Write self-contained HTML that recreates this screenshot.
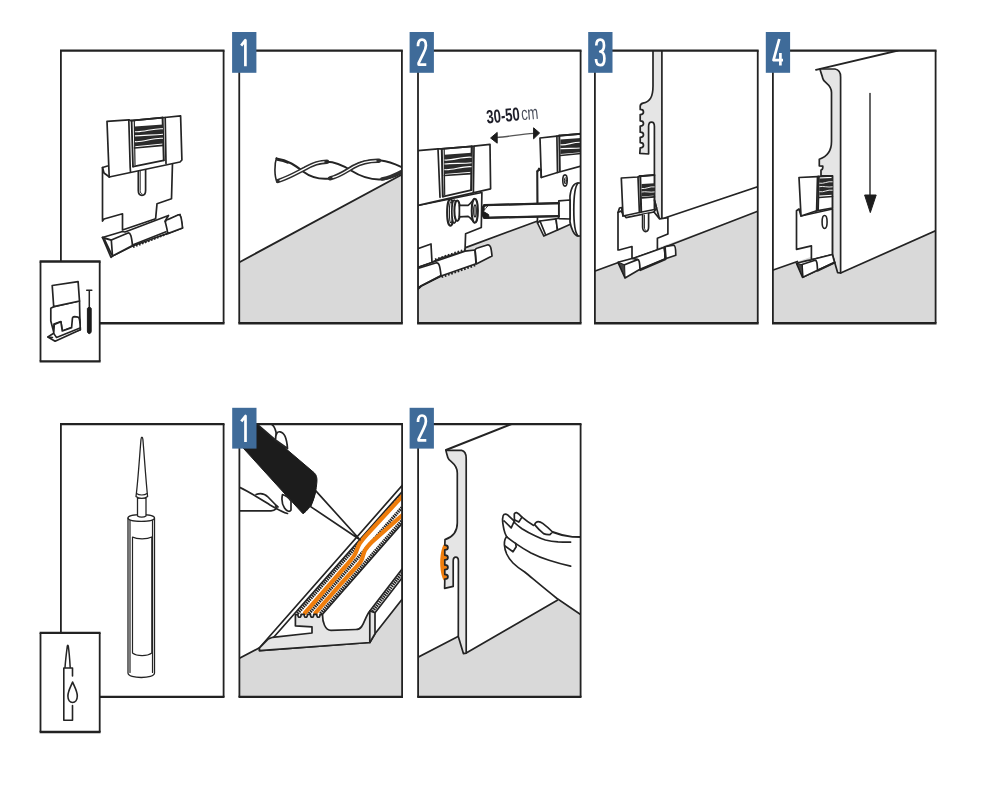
<!DOCTYPE html>
<html><head><meta charset="utf-8">
<style>
html,body{margin:0;padding:0;background:#fff;}
body{width:1000px;height:800px;overflow:hidden;font-family:"Liberation Sans",sans-serif;}
svg{display:block;position:absolute;left:0;top:0;filter:blur(0.45px);}
.l{fill:none;stroke:#242424;stroke-width:1.7;stroke-linejoin:round;stroke-linecap:round;}
.w{fill:#fff;stroke:#242424;stroke-width:1.7;stroke-linejoin:round;stroke-linecap:round;}
.g{fill:#e5e5e5;stroke:#242424;stroke-width:1.7;stroke-linejoin:round;stroke-linecap:round;}
.k{fill:#1c1c1c;stroke:#1c1c1c;stroke-width:1;stroke-linejoin:round;}
.fl{fill:#d9d9d9;stroke:none;}
.fr{fill:none;stroke:#1c1c1c;stroke-width:1.7;}
.bd{fill:#3f6b99;}
.fh{fill:none;stroke:#222;stroke-width:2.3;}
.fv{fill:none;stroke:#222;stroke-width:1.8;}
.bt{fill:#fff;font-family:"Liberation Sans",sans-serif;font-size:33px;}
.o{fill:none;stroke:#ef7d0c;stroke-linecap:round;stroke-linejoin:round;}
</style></head><body>
<svg width="1000" height="800" viewBox="0 0 1000 800">
<defs>
<clipPath id="c10"><rect x="60.90" y="50.55" width="162.70" height="272.70"/></clipPath>
<clipPath id="c11"><rect x="239.25" y="50.55" width="162.65" height="272.70"/></clipPath>
<clipPath id="c12"><rect x="418.00" y="50.55" width="162.60" height="272.70"/></clipPath>
<clipPath id="c13"><rect x="594.90" y="50.55" width="162.85" height="272.70"/></clipPath>
<clipPath id="c14"><rect x="772.90" y="50.55" width="162.70" height="272.70"/></clipPath>
<clipPath id="c20"><rect x="60.90" y="424.10" width="162.70" height="272.80"/></clipPath>
<clipPath id="c21"><rect x="239.40" y="424.10" width="162.70" height="272.80"/></clipPath>
<clipPath id="c22"><rect x="418.10" y="424.10" width="162.50" height="272.80"/></clipPath>
</defs>
<rect x="0" y="0" width="1000" height="800" fill="#fff"/>

<!--P10--><g clip-path="url(#c10)" id="p10">
<!-- lower plate -->
<path class="w" d="M102.5,167.5 L107.5,166 L172.5,162.5 L171.5,198.8 L157,203.8 L155.6,218.8 L122.5,230 L122.5,213.8 L104,219 L102.5,221 Z"/>
<path class="l" d="M102.5,167.5 L104,173 L109.4,177"/>
<!-- slot -->
<path class="w" d="M138.3,169.5 L138.3,190.5 C138.3,193.5 140,195.3 142,195.3 C144,195.3 145.6,193.5 145.6,190.5 L145.6,168"/>
<path class="l" d="M140.2,170 L140.2,190.5 C140.2,192.5 141,193.7 142,194" style="stroke-width:1"/>
<!-- top block -->
<path class="w" d="M107,121.3 L128.8,119.8 L131,120.6 L162.5,117.6 L164.6,117.5 L180.6,115.9 L181.9,160 L180,162 L109.2,177 Z"/>
<path class="l" d="M128.8,119.8 L130.2,167.5 L130.5,171.8"/>
<path class="l" d="M131.6,120.6 L133,166.5" style="stroke-width:1.8"/>
<path class="l" d="M134.3,121 L135,165" style="stroke-width:1.2"/>
<path class="l" d="M162.6,117.8 L163.8,160.3" style="stroke-width:2"/>
<path class="l" d="M165.2,117.6 L166,163.5"/>
<path class="l" d="M133,166.7 L163.8,160.3"/>
<path class="l" d="M131.5,120.6 L162.6,117.6" style="stroke-width:1.8"/>
<!-- spring -->
<path d="M134.9,126.4 L163.0,124.4 L163.0,143.4 L134.9,146.2 Z" fill="#2a2a2a"/>
<path d="M134.9,131.7 C143.3,132.7 153.2,127.9 163.0,128.8" fill="none" stroke="#fff" stroke-width="1.1"/>
<path d="M134.9,135.9 C143.3,135.0 153.2,135.2 163.0,134.3" fill="none" stroke="#fff" stroke-width="1.1"/>
<path d="M134.9,141.6 C143.3,142.6 153.2,137.3 163.0,138.3" fill="none" stroke="#fff" stroke-width="1.1"/>
<path class="l" d="M134.5,148 L163,145.3"/>
<!-- tray -->
<path class="w" d="M102.5,237.5 L122.5,231.5 L125,232 L168.5,215.5 L165,221.3 L180,214.4 L182.5,228 L167.5,233.5 L132.5,246 L112.5,256 L111,257.3 Z"/>
<path class="w" d="M111.3,240 L128,233 C130.5,232.5 131.5,236 132.5,245.5 L112.5,256 Z"/>
<path class="l" d="M102.5,237.5 L111.3,240.2 M104.6,240 L111.6,254.6" style="stroke-width:1.9"/>
<path class="w" d="M165.3,222 C166,220 167,219.5 168,219.5 L178.5,214.8 C180.5,214.3 181.5,217 182.5,228 L167.8,233.6 C167,228 166,225 165.3,222 Z"/>
<path class="l" d="M132.5,245 L166,231.8"/>
<path class="l" stroke-dasharray="1.6 1.6" d="M133,247 L167,233.8" style="stroke-width:2.2;stroke-linecap:butt"/>

</g>
<!--P11--><g clip-path="url(#c11)" id="p11">
<polygon class="fl" points="239,262.4 402.5,174.2 402.5,323.5 239,323.5"/>
<path class="l" d="M239,262.4 L402.5,174.2" style="stroke-width:1.8"/>
<!-- drill bit -->
<path class="l" d="M276.5,158 C274.3,164 274.3,176 277,182" style="stroke-width:1.6"/>
<path class="l" d="M276.5,158.5 C288,160 296,166 303,171.5 C311,177.5 321,179.5 330,178.5 C338,177.5 344,172 351,167.5 C360,161.5 371,159.5 381,160.5 C390,161.5 397,165 402.5,167.5" style="stroke-width:2"/>
<path class="l" d="M278,181 C289,177.5 297,172.5 305,168.5 C312,164.5 319,161.8 327,161.8" style="stroke-width:4.4;stroke:#2e2e2e"/>
<path class="l" d="M280,180.3 C290,176.8 297.5,172.3 305.3,168.4 C312,164.6 318,162.2 324,161.9" style="stroke-width:1.3;stroke:#fff"/>
<path class="l" d="M327,161.8 C336,161.8 343,165.5 351,170.5 C359,175.5 368,179.5 379,179.5 C389,179.5 397,175.5 402.5,172.5" style="stroke-width:2"/>
<path class="l" d="M330,178.3 C339,176.3 346,171 353,167 C361,162.6 370,160.6 379,160.8" style="stroke-width:4.4;stroke:#2e2e2e"/>
<path class="l" d="M333,177.4 C341,175.3 347,170.6 353.6,166.8 C361,162.8 369,161 376,160.9" style="stroke-width:1.3;stroke:#fff"/>
<path class="l" d="M382,179 C390,177.5 397,174 402.5,171" style="stroke-width:3.6;stroke:#2e2e2e"/>
<path class="l" d="M277,160 C281,160.5 285,161.5 288,163" style="stroke-width:1.4"/>

</g>
<!--P12--><g clip-path="url(#c12)" id="p12">
<!-- floor -->
<polygon class="fl" points="417.5,265.4 465.6,247.6 581,204.9 581,323.5 417.5,323.5"/>
<path class="l" d="M465.6,247.6 L541,219.7"/>
<!-- ===== right clip (background) ===== -->
<path class="w" d="M537.3,171 L541,169.5 L581,160 L581,212 L557,222 L537.5,223 Z"/>
<path class="l" d="M537.3,171 L537.5,202.5"/>
<!-- right clip top block -->
<path class="w" d="M540,138 L556.9,136.2 L558.8,135.6 L581,133.8 L581,166 L557.5,172.5 L541.3,177.5 Z"/>
<path class="l" d="M556.9,136.2 L557.5,172.5"/>
<path class="l" d="M559.3,135.8 L559.8,171" style="stroke-width:2"/>
<path class="l" d="M559,135.7 L581,133.8" style="stroke-width:1.9"/>
<path d="M560.4,139.6 L581.5,138.0 L581.5,152.2 L560.4,154.0 Z" fill="#2a2a2a"/>
<path d="M560.4,144.8 C566.7,145.7 574.1,141.4 581.5,142.3" fill="none" stroke="#fff" stroke-width="1.1"/>
<path d="M560.4,148.8 C566.7,147.9 574.1,148.8 581.5,147.9" fill="none" stroke="#fff" stroke-width="1.1"/>
<path class="l" d="M560.5,155.5 L581,153.5"/>
<path class="l" d="M537.5,171.5 L539,168.5 L541,170 L541.3,177.5"/>
<!-- right clip hole -->
<ellipse class="l" cx="565" cy="180.5" rx="2.2" ry="5.6" style="stroke-width:1.6"/>
<ellipse class="l" cx="565.3" cy="180.8" rx="0.9" ry="3.2" style="stroke-width:1"/>
<!-- right clip tray -->
<path class="w" d="M537.5,223 L540,221 L556,218.8 L557.5,230 L543.8,236 Z"/>
<path class="l" d="M540,221 L545.5,234.5"/>
<path class="w" d="M556,219 L570,214 L571,224 L557.5,230 Z"/>
<!-- screwdriver handle -->
<path class="w" d="M570,196 C571,188 574,183.2 578,183 L584,183 L584,236 L578,236 C574,235.5 571,228 570,222 Z"/>
<path class="l" d="M578,183 C575.3,186 573.8,198 573.8,210 C573.8,222 575.3,233 578,236"/>
<!-- collar -->
<path class="w" d="M558.8,200.8 L570,200 L570,219 L558.8,218.6 Z"/>
<!-- shaft -->
<path class="w" d="M483.8,205.2 L558.8,203.2 L558.8,216.2 L483.8,217.8 L480.6,211.2 Z"/>
<path class="l" d="M484.5,205.2 L558.8,203.2" style="stroke-width:2.2"/>
<path class="l" d="M484.5,217.8 L558.8,216.2" style="stroke-width:2.2"/>
<path class="k" d="M483.8,205 L488.5,205 L484.2,210.2 L483.6,211.6 L488.6,214.6 L489,217.8 L483.8,217.8 L480.8,211.3 Z"/><path class="w" d="M484.6,207 L487,206 L484.8,209.6 Z" style="stroke:none"/>
<!-- ===== left clip ===== -->
<!-- lower plate -->
<path class="w" d="M417.5,205.6 L481.9,192.5 L481.3,227.5 L465.6,233.8 L465,251 L441,258 L432.5,262 L417.5,267.5 Z"/>
<!-- top block -->
<path class="w" d="M417.5,150.6 L438,148.8 L441,148.8 L471.9,146.3 L473.8,146.2 L490,144.4 L490.6,188.8 L417.5,205.6 Z"/>
<path class="l" d="M438,148.8 L440,197.3"/>
<path class="l" d="M441.8,149 L442.8,196.5" style="stroke-width:2"/>
<path class="l" d="M444.2,149.5 L444.7,195" style="stroke-width:1.2"/>
<path class="l" d="M471.8,146.6 L471.2,190" style="stroke-width:2.2"/>
<path class="l" d="M474,146.3 L473.4,192.6"/>
<path class="l" d="M441.5,148.9 L471.9,146.4" style="stroke-width:1.9"/>
<path class="l" d="M442.8,196.6 L471.2,190.2"/>
<path d="M444.4,154.8 L471.6,152.8 L471.6,171.8 L444.4,174.0 Z" fill="#2a2a2a"/>
<path d="M444.4,160.0 C452.6,160.9 462.1,156.2 471.6,157.2" fill="none" stroke="#fff" stroke-width="1.1"/>
<path d="M444.4,164.0 C452.6,163.1 462.1,163.6 471.6,162.7" fill="none" stroke="#fff" stroke-width="1.1"/>
<path d="M444.4,169.6 C452.6,170.5 462.1,165.8 471.6,166.7" fill="none" stroke="#fff" stroke-width="1.1"/>
<path class="l" d="M444.5,175.5 L471.3,173.6"/>
<!-- screw -->
<ellipse class="w" cx="450.4" cy="212.5" rx="3.3" ry="13.2" style="stroke-width:2"/>
<ellipse class="l" cx="450.9" cy="212.3" rx="1.5" ry="10.4" style="stroke-width:1.2"/>
<ellipse class="w" cx="454.2" cy="211.6" rx="2.4" ry="11.6" style="stroke-width:1.7"/>
<ellipse class="w" cx="457.2" cy="210.7" rx="2.8" ry="10.2" style="stroke-width:2"/>
<path class="w" d="M459.4,205.4 L468.2,205.4 C470.4,203.8 472.4,201 474.3,198.8 L474.3,222.6 C472.4,220 470.4,217.6 468.2,216.4 L459.4,216.8 Z" style="stroke-width:1.7"/>
<ellipse class="w" cx="474.8" cy="210.7" rx="3.1" ry="12" style="stroke-width:2"/>
<ellipse class="l" cx="475" cy="210.9" rx="1.2" ry="5.8" style="stroke-width:1.5"/>
<!-- tray left -->
<path class="w" d="M417.5,248.8 L431,244 L432,262.5 L417.5,267.5 Z"/>
<path class="w" d="M417.5,267.5 L432,262.5 L465,251.2 L475,250 L476,263.8 L441,276 L421,286 L417.5,288.8 Z"/>
<path class="w" d="M417.5,268.5 L436.5,262.8 C439,262.5 440,266 441,275.5 L421,286 L417.5,288 Z"/>
<path class="l" stroke-dasharray="1.6 1.8" d="M435,259.5 L465,249.5" style="stroke-width:2;stroke-linecap:butt"/>
<path class="w" d="M475,250.2 C475.6,248.6 476.6,248 477.6,248 L488,244.8 C490.2,244.6 491.2,247 492,256 L476.3,263.9 C476,258 475.6,253 475,250.2 Z"/>
<path class="l" stroke-dasharray="1.7 1.7" d="M441.5,277 L476.3,264.8" style="stroke-width:2.3;stroke-linecap:butt"/>
<path class="l" d="M421,286 L441,276"/>
<!-- floor front edge line -->
<path class="l" d="M417.5,289.5 L421,286.3"/>
<!-- text & arrow -->
<g transform="translate(487,123.6) rotate(-5.5)">
<text transform="scale(0.69,1)" font-family="Liberation Sans, sans-serif" font-size="19" font-weight="bold" fill="#1d1d28" x="0" y="0">30-50</text>
<text transform="translate(34.8,0) scale(0.68,1)" font-family="Liberation Sans, sans-serif" font-size="19" fill="#4a4f5c" x="0" y="0">cm</text>
</g>
<path class="l" d="M496,137.6 C508,136.8 520,134.2 534,133.4" style="stroke-width:1.4;stroke:#555"/>
<path class="k" d="M490.6,138 L497.2,132.4 L497.2,143.2 Z"/>
<path class="k" d="M539.6,133 L533.6,127.8 L533.6,138.8 Z"/>

</g>
<!--P13--><g clip-path="url(#c13)" id="p13">
<!-- floor -->
<polygon class="fl" points="594.5,271 758.5,211 758.5,323.5 594.5,323.5"/>
<!-- skirting board front face (white) -->
<path class="w" d="M661.9,50 L758.5,50 L758.5,186.5 L665.3,217.8 L661.9,218.8 Z" style="stroke:none"/>
<path class="l" d="M594.5,271.2 L619,262.2 M657.4,250 L758.5,211"/>
<path class="l" d="M665.3,217.8 L758.5,186.5"/>
<!-- profile (gray) -->
<path class="g" d="M653,50 L653,86 C653,97 650,101.5 643,103.2 C640.6,103.8 640,105 640.2,107 L640.2,109.4 C644.6,109.4 644.6,114.6 640.2,114.6 L640.2,120.8 C644.6,120.8 644.6,126 640.2,126 L640.2,132.2 C644.6,132.2 644.6,137.4 640.2,137.4 L640.2,142.6 C644.6,142.6 644.6,147.8 640.2,147.8 L639.8,153.4 L648.6,154 L648.6,126.5 C648.6,123.5 650,122.2 651.5,122.2 C653,122.2 654.4,123.5 654.4,126.5 L654.4,153 L654.4,200 L659.4,218.8 L661.9,218.8 L661.9,50 Z"/>
<!-- clip -->
<!-- lower plate -->
<path class="w" d="M618,212.4 L621,211 L626,217.6 L654,212 L659.6,218.9 L667.9,217.6 L667.9,234 L657.4,238.2 L657.4,250 L632,259 L632,246.5 L619,250 L618,250 Z"/>
<path class="w" d="M642.6,214.5 L642.6,227 C642.6,229.5 644,231.6 645.6,231.6 C647.4,231.6 648.6,229.5 648.6,227 L648.6,213.5"/>
<path class="l" d="M644.4,215 L644.4,227 C644.4,229 645,230.2 645.8,230.5" style="stroke-width:1"/>
<!-- flap & recess -->
<path class="w" d="M621.3,178 L638,177 L639.4,176.2 L654.4,175 L654.4,209.5 L639.4,212.5 L623,216 Z"/>
<path class="l" d="M638,177 L639.4,212.5"/>
<path class="l" d="M640.3,176.5 L641.2,211.5" style="stroke-width:2"/>
<path class="l" d="M639.6,176.2 L654.4,175" style="stroke-width:1.9"/>
<path d="M641.6,183.9 L654.6,183.2 L654.6,195.6 L641.6,196.6 Z" fill="#2a2a2a"/>
<path d="M641.6,188.5 C645.5,189.4 650.1,186.0 654.6,186.9" fill="none" stroke="#fff" stroke-width="0.9"/>
<path d="M641.6,192.0 C645.5,191.1 650.1,192.8 654.6,191.9" fill="none" stroke="#fff" stroke-width="0.9"/>
<path class="l" d="M641.8,197.8 L654.4,196.8"/>
<path class="l" d="M654.4,200 L656.5,208 L654,212"/>
<path class="l" d="M618,212.4 L619.5,208 L621.5,207.5 L623,216"/>
<!-- tray -->
<path class="w" d="M632,258.8 L664.4,247.2 L665.3,258.8 L640,269.3 Z"/>
<path class="w" d="M618,262.3 L632,258.5 L637.5,259.4 C639.2,259.4 639.7,262 640,269.3 L625,278 Z"/>
<path class="k" d="M618.3,262.3 L624.6,264.8 L625,277.4 Z" style="fill:#444"/><path class="l" d="M624.6,264.8 L637.5,259.6"/>
<path class="w" d="M664.4,248 C664.8,246.8 665.6,246.4 666.4,246.4 L673.5,245.2 C675.2,245.2 675.8,247.5 675.8,255.2 L665.3,258.8 C665.2,254 664.9,250 664.4,248 Z"/>
<path class="l" d="M640.3,270 L665.3,259.3" style="stroke-width:2.2"/><path class="l" d="M664.8,247.8 L665.6,258.4" style="stroke-width:2.4"/>

</g>
<!--P14--><g clip-path="url(#c14)" id="p14">
<!-- floor -->
<polygon class="fl" points="772.5,270.3 840.6,246.5 840.6,273 936,230.6 936,323.5 772.5,323.5"/>
<!-- board front face -->
<path class="w" d="M840.6,76 L898,50 L936,50 L936,230.6 L840.6,273 Z" style="stroke:none"/>
<path class="l" d="M772.5,270.3 L797.4,261.5"/>
<path class="l" d="M840.6,273 L936,230.6"/>
<path class="l" d="M816,69.8 L898,50.5" style="stroke-width:1.9"/>
<!-- profile gray -->
<path class="g" d="M820,69 L835,69 C838.6,69.5 840.6,72.5 840.6,77 L840.6,273 L837.6,272.6 L832.4,254.5 L832.4,175.8 L821,175.8 L821,170 C822.5,169.8 823,168.8 822.8,166.2 L819.3,166 L819.3,159.2 C826,157 831.5,151.5 831.5,141.5 L831.5,92.5 C831.5,84 823.5,83 822.8,78.5 C822,75 820.5,72 820,69 Z"/>
<!-- arrow -->
<path class="l" d="M870,93.5 L870,197" style="stroke-width:1.4"/>
<path class="k" d="M864.6,195 L876.2,195 L870.3,212.6 Z"/>
<!-- clip -->
<path class="w" d="M796.5,210.8 L799,209 L801,216 L832.4,209 L832.4,254.5 L811.4,259.8 L811.4,245.8 L796.5,249.3 Z"/>
<path class="w" d="M799,177.5 L817.5,176.6 L832.4,175.8 L832.4,208 L816.6,210.8 L801,216 Z"/>
<path class="l" d="M817.5,176.6 L816.6,210.8"/>
<path class="l" d="M818.8,176.6 L818,210" style="stroke-width:2"/>
<path d="M819.3,178.6 L832.6,178.0 L832.6,194.8 L819.3,195.6 Z" fill="#2a2a2a"/>
<path d="M819.3,183.2 C823.3,184.2 827.9,180.9 832.6,181.8" fill="none" stroke="#fff" stroke-width="0.9"/>
<path d="M819.3,186.7 C823.3,185.8 827.9,187.7 832.6,186.8" fill="none" stroke="#fff" stroke-width="0.9"/>
<path d="M819.3,191.7 C823.3,192.7 827.9,189.3 832.6,190.2" fill="none" stroke="#fff" stroke-width="0.9"/>
<path class="l" d="M819,197.5 L832.4,196.5"/>
<ellipse class="w" cx="824.6" cy="222" rx="2.5" ry="6.5" style="stroke-width:1.6"/>

<!-- tray -->
<path class="w" d="M796.5,263.3 L807,260.6 L811.4,259.8 L832.4,254.5 L834.6,262.4 L817.5,270.3 L802.6,277.3 Z"/>
<path class="w" d="M802,264.5 L815,260.2 C816.8,260 817.2,263 817.5,270.3 L802.8,277.2 Z"/>
<path class="k" d="M796.7,263.3 L802.2,264.8 L802.7,277 Z" style="fill:#444"/>
<path class="l" d="M817.8,270.5 L834.6,262.6" style="stroke-width:2.2"/>

</g>
<!--P20--><g clip-path="url(#c20)" id="p20">
<!-- sealant tube -->
<path class="w" d="M128,518 C128,513.5 154.5,513.5 154.5,518 L154.5,673 C154.5,679 128,679 128,673 Z" style="stroke-width:1.3"/>
<path class="l" d="M128,518 C128,522.5 154.5,522.5 154.5,518" style="stroke-width:1.2"/>
<path class="l" d="M130,520.5 L130,672.5 M152.5,520.5 L152.5,672.5" style="stroke-width:1.2"/>
<path class="w" d="M132.5,537 C137,539.5 147,539.5 151.8,537 L151.8,653 C147,656.5 137,656.5 132.5,653 Z" style="stroke-width:1.2"/>
<path class="w" d="M137.5,516 L137.5,498 L146,498 L146,516 C144,517.6 139.5,517.6 137.5,516 Z" style="stroke-width:1.3"/>
<path class="w" d="M136,496.5 C138,482 140,450 141,439.5 C141.3,436.5 142.6,436.5 142.9,439.5 C144,452 146,482 147.6,496.5 C145,499 138.5,499 136,496.5 Z" style="stroke-width:1.3"/>
<path class="l" d="M136.6,493.5 C139,495.5 144.5,495.5 147,493.5" style="stroke-width:1.1"/>

</g>
<!--P21--><g clip-path="url(#c21)" id="p21">
<!-- floor -->
<polygon class="fl" points="239,658.5 259.5,648 259.5,651 370,643 375,634 402.5,598.5 402.5,697.5 239,697.5"/>
<path class="l" d="M239,658.5 L259.5,647.8"/>
<!-- board back face (white) -->
<path class="w" d="M259.5,647.8 L402.5,485.1 L402.5,598.8 L375,633.8 L369.8,642.5 L259.5,650.6 Z"/>
<path class="l" d="M272.6,638.5 L402.5,491.2"/>
<!-- hatch bands along board -->
<g class="l" stroke-dasharray="1.5 0.75" style="stroke-width:3.3;stroke:#222;stroke-linecap:butt">
<path d="M297.5,613.5 L402.5,493.8"/>
<path d="M309,613.5 L402.5,506.9"/>
<path d="M320.5,613.5 L402.5,520"/>
<path d="M372.4,611.5 L402.5,572.5"/>
</g>
<path class="l" d="M322.3,614.5 L402.5,523"/>
<path class="l" d="M369.8,611 L402.5,568.5"/>
<path class="l" d="M375,612.8 L402.5,577.2"/>
<!-- orange glue -->
<path class="o" d="M305,612.8 L344,568 C348,563.5 352,559 354.5,555 C357,550.5 357.5,547 359.6,543.6 C362,540 364,537.8 366,535.6 L402.5,496" style="stroke-width:4.2"/>
<path class="o" d="M315.5,612.8 L340,584.8 L353,570.5 C357,566 360.5,563 361.8,559.5 C363,556 363.5,553 365,550.2 C367,546.8 370,544 372,541.8 L402.5,515" style="stroke-width:4.2"/>
<!-- end face (gray) -->
<path class="g" d="M259.5,647.8 L268.3,639 L272.6,637.3 L312,633 L312,626.8 L295.4,625.9 L295.4,614.6 L297.9,614.4 C297.9,618.2 301.1,618.2 301.1,614.4 L304.2,614.4 C304.2,618.2 307.4,618.2 307.4,614.4 L310.5,614.4 C310.5,618.2 313.7,618.2 313.7,614.4 L316.8,614.4 C316.8,618.2 320,618.2 320,614.4 L322.5,614.8 C322.5,622 325,630.3 331,630.3 L356,629.5 C364,629.5 364,618 369.8,611 L375,612.8 L375,633.8 L369.8,642.5 L259.5,650.6 Z"/>
<path class="l" d="M369.8,611 L369.8,642.5"/>
<!-- nozzle -->
<path class="w" d="M315.6,490.6 L360,539.8 L310.6,506.6 Z"/>
<!-- black tube -->
<path class="k" d="M236,440.2 L256.9,424 L314,472.6 C316.5,474.8 317.3,478 316.9,482 C316.3,490 314.8,496 313.2,500.5 C310.8,506.5 307.2,510.8 303,513.8 L236,440.2 Z"/>
<path class="k" d="M236,420 L257,420 L257,424.5 L236,439.8 Z"/>
<!-- upper fingers -->
<path class="w" d="M256.9,424 L270.5,424 C273,424.5 275,428 276,432 L276.5,441 Z"/>
<path class="w" d="M275.5,440 C275.5,433 277.5,431.5 280,431.8 C284,432.3 286.8,438 287.5,448.5 Z"/>
<!-- lower hand -->
<path class="l" d="M239,487 C250,492 262,500 270,505 C276,508.5 283,512.5 287.5,513.5"/>
<path class="l" d="M239,510.8 L271,510.8 C275,510.5 278,508.5 275.5,506"/>
<path class="l" d="M256,494.5 C261,492.5 265,494 268,497 C271,500 274,503.5 278,507"/>
<path class="w" d="M282.5,494.5 C281.5,499 282.5,505 284.5,508 C286.5,511 289.5,512.5 291,510 L291,501 C289,498 286,495.5 282.5,494.5 Z"/>

</g>
<!--P22--><g clip-path="url(#c22)" id="p22">
<!-- floor -->
<polygon class="fl" points="417.5,657.5 458,636.5 463.4,653.6 466.2,653.1 557.3,600.2 581,614.8 581,697.5 417.5,697.5"/>
<path class="l" d="M417.5,657.5 L458,636.5"/>
<path class="l" d="M466.2,653.1 L557.3,600.2"/>
<path class="l" d="M446,450 L511.5,424" style="stroke-width:1.9"/>
<!-- orange glue -->
<path d="M445.5,543 C442.4,544.5 440.2,553 440.2,562.5 C440.2,572 442.4,580.5 445.5,582 L450,582 L450,543 Z" fill="#ef7d0c"/>
<!-- profile -->
<path class="g" d="M445.9,450.3 L461.6,450.3 C464.6,450.8 466.2,454 466.2,458.5 L466.2,653.1 L463.4,653.6 L458.3,636.5 L458.4,561 C458.4,558.3 457.2,557.2 455.8,557.2 C454.4,557.2 453.2,558.3 453.2,561 L453.2,586.4 L444.6,588.4 L444.8,579.2 C449,579.2 449,574.4 444.8,574.4 L444.8,569.7 C449,569.7 449,564.9 444.8,564.9 L444.8,559.9 C449,559.9 449,555.1 444.8,555.1 L444.8,549.9 C449,549.9 449,545.1 444.8,545.1 L445,539.6 C451,537.6 457.3,533 457.3,523 L457.3,473 C457.3,463 449,462 447.8,457.5 C447,454.5 446.3,452.5 445.9,450.3 Z"/>
<!-- hand -->
<path class="w" d="M502.6,519 L504,514.4 L507.6,514.8 L514.3,513.5 L516.6,512.6 L538.2,521.6 L552.6,532 L581,536.9 L581,614.8 L557,598.5 L524.7,572 L506.7,554 L504.4,545 Z" style="stroke:none"/>
<!-- lower outline -->
<path class="l" d="M506.7,536.9 C504.6,538.6 504.3,541.5 504.4,545 C504.6,548.5 505.4,551 506.7,554 C508.4,557.6 510.6,560.6 513,563 C516.6,566.6 520.6,569.4 524.7,572 C535,580.5 546,589.8 557,598.5 L581,614.8"/>
<!-- finger A -->
<path class="l" d="M506.7,536.9 C505.4,534.6 504.4,532 504,529.7 C503.2,526 502.4,522 502.6,518.9 C502.8,516.4 503.2,515 504,514.4 C505.2,513.8 506.6,514.2 507.6,514.9 L514.3,521.2 L511.2,527.9 L504.2,521"/>
<!-- finger B -->
<path class="l" d="M514.4,522.5 L514.3,513.8 C514.8,512.8 515.8,512.5 516.6,512.6 C518.6,513.4 520.4,515.4 522,517.1 C526,520.6 530,523.2 533.7,525.4"/>
<path class="l" d="M522,517.1 L518.8,522 L514.4,519.8"/>
<!-- finger C nail + line -->
<path class="l" d="M534.6,524.6 C535.4,522.6 536.8,521.6 538.2,521.6 C540,521.6 541.4,522.4 542.7,523.4 C546.4,526.2 549.8,529.2 552.6,532 L549.9,534.6 C547.4,534.8 545.4,534.4 543.6,533.6 C540.4,531 537.4,528 534.6,524.6 Z"/>
<path class="l" d="M552.6,532 C559,534.6 566,536.2 572.4,536.9 L581,537" style="stroke-width:1.9"/>
<!-- line 2 -->
<path class="l" d="M514.4,522.5 C516.8,524.8 519.4,527 522,528.8 C526.4,531.6 531,534 535.5,536 C538.8,537.6 542,539 545.4,540 C549.6,541 553.8,541.6 558,541.9 C562.2,542.1 566.4,542.1 570.6,542.1"/>
<!-- finger D -->
<path class="l" d="M505,546 L513,551.8 L516.2,546.8 L515.6,543.4"/>
<path class="l" d="M506.7,536.9 C510,539.6 513.4,542 516.6,544.1 C521.4,547.4 526.2,550.4 531,553.1 C537,556.2 543,558.4 549,560.3 C556.2,562.6 563.4,564.6 570.6,566.2"/>

</g>

<!-- frames -->
<g>
<path class="fh" d="M60.00,50.55 H224.50 M60.00,323.25 H224.50"/><path class="fv" d="M60.90,50.55 V323.25 M223.60,50.55 V323.25"/>
<path class="fh" d="M238.35,50.55 H402.80 M238.35,323.25 H402.80"/><path class="fv" d="M239.25,50.55 V323.25 M401.90,50.55 V323.25"/>
<path class="fh" d="M417.10,50.55 H581.50 M417.10,323.25 H581.50"/><path class="fv" d="M418.00,50.55 V323.25 M580.60,50.55 V323.25"/>
<path class="fh" d="M594.00,50.55 H758.65 M594.00,323.25 H758.65"/><path class="fv" d="M594.90,50.55 V323.25 M757.75,50.55 V323.25"/>
<path class="fh" d="M772.00,50.55 H936.50 M772.00,323.25 H936.50"/><path class="fv" d="M772.90,50.55 V323.25 M935.60,50.55 V323.25"/>
<path class="fh" d="M60.00,424.10 H224.50 M60.00,696.90 H224.50"/><path class="fv" d="M60.90,424.10 V696.90 M223.60,424.10 V696.90"/>
<path class="fh" d="M238.50,424.10 H403.00 M238.50,696.90 H403.00"/><path class="fv" d="M239.40,424.10 V696.90 M402.10,424.10 V696.90"/>
<path class="fh" d="M417.20,424.10 H581.50 M417.20,696.90 H581.50"/><path class="fv" d="M418.10,424.10 V696.90 M580.60,424.10 V696.90"/>
</g>
<!-- insets -->
<rect x="40.50" y="261.50" width="59.20" height="99.80" fill="#fff"/><path class="fh" d="M39.60,261.50 H100.60 M39.60,361.30 H100.60"/><path class="fv" d="M40.50,261.50 V361.30 M99.70,261.50 V361.30"/>
<rect x="40.50" y="632.90" width="59.20" height="99.10" fill="#fff"/><path class="fh" d="M39.60,632.90 H100.60 M39.60,732.00 H100.60"/><path class="fv" d="M40.50,632.90 V732.00 M99.70,632.90 V732.00"/>
<!--I1--><g id="i1">
<!-- inset clip icon -->
<g class="w" style="stroke-width:1.7">
<path d="M50.8,308.2 L53.7,306.7 L79.5,301 L79.8,316 L80.3,329.7 L72.4,332.5 L71.6,327.6 L62.3,331 L60.9,321.5 L54,324 L54,333 L50.8,321 Z"/>
<path d="M52.2,285.5 L78.1,281.6 L79.5,301 L53.7,306.7 Z"/>
<path d="M47.9,336.9 L53.7,333.3 L54.3,324.5 L60.9,321.8 L62.3,331 L71.6,327.6 L72.4,318.5 C72.6,316.8 73.6,316.6 74.5,316.6 L78,317.2 C79.6,317.5 80,319 80.3,329.7 L55.1,341.2 Z"/>
</g>
<path class="l" d="M53.7,333.3 L56.5,337.5 L80,328 M47.9,336.9 L52.5,337.5" style="stroke-width:1.5"/>
<!-- screw icon -->
<path class="l" d="M86.7,290.3 L91.8,290.3 M89.3,290.3 L89.3,308" style="stroke-width:1.5"/>
<path class="k" d="M87.4,308.5 C87.4,307 91.2,307 91.2,308.5 L91.2,331 C91.2,334.5 87.4,334.5 87.4,331 Z"/>

</g>
<!--I2--><g id="i2">
<path class="w" d="M65,667.5 C65.6,659 66.8,650 67.3,646.2 C67.5,644.8 68.1,644.8 68.3,646.2 C69,651 69.7,659 70.2,667.5" style="stroke-width:1.5"/>
<path class="l" d="M72.5,676 L72.5,668 L63.8,668 L63.8,720.3 L72.5,720.3 L72.5,705.5" style="stroke-width:1.6"/>
<path class="l" d="M72.6,682 C74.3,686.5 77.3,691 77.3,696 C77.3,700 75.2,702.5 72.6,702.5 C70,702.5 67.9,700 67.9,696 C67.9,691 70.9,686.5 72.6,682 Z" style="stroke-width:1.6"/>

</g>

<!-- badges -->
<g>
<rect class="bd" x="232.1" y="32.0" width="24.3" height="40.8"/>
<rect class="bd" x="409.6" y="32.0" width="24.3" height="40.8"/>
<rect class="bd" x="588.2" y="32.0" width="24.3" height="40.8"/>
<rect class="bd" x="765.8" y="32.0" width="24.3" height="40.8"/>
<rect class="bd" x="232.2" y="407.8" width="24.3" height="40.8"/>
<rect class="bd" x="409.6" y="407.8" width="24.3" height="40.8"/>
</g>
<!--BT--><g id="bt">
<g fill="none" stroke="#fff" stroke-width="2.7" stroke-linejoin="round" stroke-linecap="butt">
<path d="M241.2,45.6 L245.4,40.2 L245.4,66.2"/>
<path d="M418,46.2 C418,41.8 419.6,39.7 422,39.7 C424.5,39.7 425.9,41.8 425.9,45.4 C425.9,48.3 424.8,50.6 423.4,53.3 L418.6,63.2 L418.6,64.6 L426.3,64.6"/>
<path d="M596.3,45.6 C596.3,41.7 597.9,39.7 600.3,39.7 C602.7,39.7 604,41.9 604,45.5 C604,49 602.6,51.2 600.2,51.5 C603,51.9 604.4,54.4 604.4,58.4 C604.4,62.8 602.9,65.2 600.3,65.2 C597.7,65.2 596.1,63 596,59"/>
<path d="M779.3,39 L773.5,60.2 L783,60.2 M780.4,53 L780.4,65.6"/>
<path transform="translate(0.1,375.8)" d="M241.2,45.6 L245.4,40.2 L245.4,66.2"/>
<path transform="translate(0,375.8)" d="M418,46.2 C418,41.8 419.6,39.7 422,39.7 C424.5,39.7 425.9,41.8 425.9,45.4 C425.9,48.3 424.8,50.6 423.4,53.3 L418.6,63.2 L418.6,64.6 L426.3,64.6"/>
</g>

</g>
</svg>
</body></html>
